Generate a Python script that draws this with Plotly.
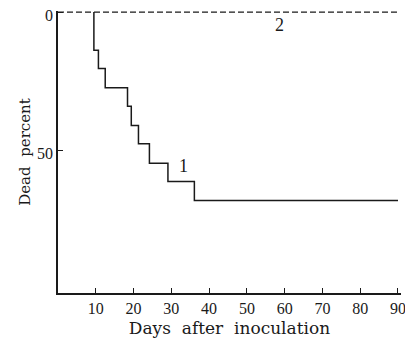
import plotly.graph_objects as go

# Group 1: step survival curve (days of death -> cumulative dead percent)
days_1 = [9.5, 9.5, 10.7, 12.5, 18.4, 19.4, 21.3, 24.2, 29.1, 36.1, 90]
dead_1 = [0, 13.8, 20.4, 27.3, 34.0, 41.0, 47.6, 54.6, 61.2, 68.1, 68.1]

# Group 2: no deaths
days_2 = [0, 90]
dead_2 = [0, 0]

x_ticks = [10, 20, 30, 40, 50, 60, 70, 80, 90]
y_ticks = [0, 50]

label_1 = (33.2, 55.5, "1")
label_2 = (58.6, 4.6, "2")

FONT = "Liberation Serif"
TITLE_FONT = "DejaVu Serif"
INK = "#1a1a1a"

fig = go.Figure()
fig.add_trace(go.Scatter(x=days_2, y=dead_2, mode="lines",
                         line=dict(color=INK, width=1.4, dash="6px,3px"),
                         showlegend=False, hoverinfo="skip"))
fig.add_trace(go.Scatter(x=days_1, y=dead_1, mode="lines",
                         line=dict(color=INK, width=1.5, shape="hv"),
                         showlegend=False, hoverinfo="skip"))

for x, y, t in (label_1, label_2):
    fig.add_annotation(x=x, y=y, text=t, showarrow=False,
                       font=dict(family=FONT, size=18, color=INK))

# page body has an 8px margin, so the figure is 8px smaller than the window
fig.update_layout(
    width=405, height=334,
    margin=dict(l=50, r=12, t=3, b=49),
    paper_bgcolor="white", plot_bgcolor="white",
    font=dict(family=FONT, size=15, color=INK),
    xaxis=dict(range=[0, 90.8], tickvals=x_ticks, ticks="inside", ticklen=5,
               tickwidth=1, tickcolor=INK, showline=True, linecolor=INK,
               linewidth=1.5, showgrid=False, zeroline=False, automargin=False,
               tickfont=dict(family=FONT, size=16),
               title=dict(text="Days  after  inoculation",
                          font=dict(family=TITLE_FONT, size=17), standoff=6)),
    yaxis=dict(range=[101.5, -0.4], tickvals=y_ticks, ticks="inside", ticklen=5,
               tickwidth=1, tickcolor=INK, showline=True, linecolor=INK,
               linewidth=1.5, showgrid=False, zeroline=False, automargin=False,
               ticklabeloverflow="allow", ticklabelshift=-3,
               tickfont=dict(family=FONT, size=16),
               title=dict(text="Dead  percent",
                          font=dict(family=TITLE_FONT, size=15), standoff=3)),
)

fig.write_html("out.html")
